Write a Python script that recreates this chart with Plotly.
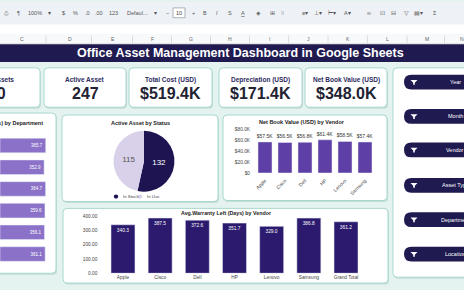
import plotly.graph_objects as go

W, H = 464, 290
FONT = "Liberation Sans, Arial, sans-serif"

# ---------------- data ----------------
kpi_titles = ["Total Assets", "Active Asset", "Total Cost (USD)", "Depreciation (USD)", "Net Book Value (USD)"]
kpi_values = ["500", "247", "$519.4K", "$171.4K", "$348.0K"]

dept_names = ["Admin", "Finance", "HR", "IT", "Marketing", "Operations"]
dept_warranty = [365.7, 352.9, 364.7, 359.6, 356.1, 361.1]

status_labels = ["In Stock", "In Use"]
status_values = [132, 115]

nbv_vendors = ["Apple", "Cisco", "Dell", "HP", "Lenovo", "Samsung"]
nbv_values = [57500, 56500, 56800, 61400, 58500, 57400]
nbv_ticks = [0, 20000, 40000, 60000, 80000]
nbv_ticktext = ["$0", "$20.0K", "$40.0K", "$60.0K", "$80.0K"]

war_vendors = ["Apple", "Cisco", "Dell", "HP", "Lenovo", "Samsung", "Grand Total"]
war_values = [340.3, 387.5, 372.6, 351.7, 329.0, 386.8, 361.2]
war_ticks = [0, 100, 200, 300, 400]
war_ticktext = ["0.00", "100.00", "200.00", "300.00", "400.00"]

filter_labels = ["Year", "Month", "Vendor", "Asset Type", "Department", "Location"]
col_letters = ["C", "D", "E", "F", "G", "H", "I", "J", "K", "L", "M", "N"]

# ---------------- helpers ----------------
def X(px):
    return px / W

def Y(py):
    return 1 - py / H

def rrect(x0, y0, x1, y1, r):
    def p(a, b):
        return f"{X(a):.5f},{Y(b):.5f}"
    return (f"M {p(x0 + r, y0)} L {p(x1 - r, y0)} Q {p(x1, y0)} {p(x1, y0 + r)} "
            f"L {p(x1, y1 - r)} Q {p(x1, y1)} {p(x1 - r, y1)} L {p(x0 + r, y1)} "
            f"Q {p(x0, y1)} {p(x0, y1 - r)} L {p(x0, y0 + r)} Q {p(x0, y0)} {p(x0 + r, y0)} Z")

shapes = []
annotations = []

def rect(x0, y0, x1, y1, color, line=None):
    shapes.append(dict(type="rect", xref="paper", yref="paper", x0=X(x0), x1=X(x1),
                       y0=Y(y1), y1=Y(y0), fillcolor=color, layer="below",
                       line=dict(width=0) if line is None else line))

def card(x0, y0, x1, y1, r=4):
    shapes.append(dict(type="path", xref="paper", yref="paper", path=rrect(x0 + 1, y0 + 1.5, x1 + 1, y1 + 1.5, r),
                       fillcolor="#c4dcd8", line=dict(width=0), layer="below"))
    shapes.append(dict(type="path", xref="paper", yref="paper", path=rrect(x0, y0, x1, y1, r),
                       fillcolor="#ffffff", line=dict(color="#a8d8cf", width=1), layer="below"))

def text(x, y, s, size=6, color="#333333", bold=False, anchor="center"):
    annotations.append(dict(xref="paper", yref="paper", x=X(x), y=Y(y), text=f"<b>{s}</b>" if bold else s,
                            showarrow=False, xanchor=anchor, yanchor="middle",
                            font=dict(family=FONT, size=size, color=color)))

# ---------------- chrome: toolbar / columns / title ----------------
rect(0, 0, W, 23, "#eef2f7")
rect(0, 23, W, 33, "#ffffff")
rect(0, 33, W, 43, "#f8f9fa")
shapes.append(dict(type="line", xref="paper", yref="paper", x0=0, x1=1, y0=Y(42.5), y1=Y(42.5),
                   line=dict(color="#dadce0", width=1), layer="below"))
col_x = [22, 70, 113, 152, 191, 230, 269, 308, 348, 387, 427, 462]
for i, (c, cx) in enumerate(zip(col_letters, col_x)):
    text(cx, 38, c, size=5, color="#5f6368")
    if i < len(col_x) - 1:
        sx = (cx + col_x[i + 1]) / 2
        shapes.append(dict(type="line", xref="paper", yref="paper", x0=X(sx), x1=X(sx), y0=Y(34), y1=Y(42),
                           line=dict(color="#dadce0", width=1), layer="below"))

toolbar = [("⎙", 6), ("¶", 18), ("100%", 35), ("▾", 49), ("$", 63), ("%", 75), (".0", 87), (".00", 99),
           ("123", 113), ("Defaul...", 137), ("▾", 155), ("−", 167), ("+", 193), ("B", 205),
           ("<i>I</i>", 217), ("S", 230), ("<u>A</u>", 243), ("◈", 258), ("⊞", 272), ("⁞⁞", 283),
           ("≡▾", 305), ("⊥▾", 318), ("⊢▾", 332), ("A▾", 347), ("∞", 369), ("⊡", 382), ("⊟", 393),
           ("▽", 406), ("▤▾", 418), ("Σ", 435)]
for s, tx in toolbar:
    text(tx, 11, s, size=5.5, color="#555555")
shapes.append(dict(type="rect", xref="paper", yref="paper", x0=X(173), x1=X(185), y0=Y(16), y1=Y(6),
                   fillcolor="#ffffff", line=dict(color="#9aa0a6", width=0.8), layer="below"))
text(179, 11, "10", size=5.5, color="#444444")

# dashboard background and title bar
rect(0, 43, W, H, "#e4f3f0")
rect(0, 43, W, 61, "#1f1a50")
text(240, 52, "Office Asset Management Dashboard in Google Sheets", size=12.5, color="#ffffff", bold=True)

# ---------------- cards ----------------
kpi_boxes = [(-30, 67, 40), (44, 67, 126), (129, 67, 212), (219, 67, 302), (305, 67, 387)]
for (x0, y0, x1) in kpi_boxes:
    card(x0, y0, x1, 107)
for (x0, y0, x1), t, v in zip(kpi_boxes, kpi_titles, kpi_values):
    if x0 < 0:
        text(16, 79, t, size=6.5, color="#2d2a5e", bold=True, anchor="right")
        text(8, 93, v, size=16, color="#222233", bold=True, anchor="right")
    else:
        cx = (x0 + x1) / 2
        text(cx, 79, t, size=6.5, color="#2d2a5e", bold=True)
        text(cx, 93, v, size=16, color="#222233", bold=True)

card(393, 67, 490, 280)                 # filters
card(-30, 113, 56, 276)                 # dept
card(62, 115, 218, 203)                 # pie
card(223, 115, 387, 202)                # nbv
card(63, 210, 388, 286)                 # warranty

# panel titles
text(45, 123, "Days) by Department", size=5.5, color="#222222", bold=True, anchor="right")
text(140, 123, "Active Asset by Status", size=5.5, color="#222222", bold=True)
text(302, 122, "Net Book Value (USD) by Vendor", size=5.5, color="#222222", bold=True)
text(226, 215, "Avg.Warranty Left (Days) by Vendor", size=5.3, color="#222222", bold=True)

# filter pills
pill_y = [81.5, 116.5, 150.5, 186.5, 221.5, 256.5]
for lab, py in zip(filter_labels, pill_y):
    shapes.append(dict(type="path", xref="paper", yref="paper", path=rrect(404, py - 7.5, 506, py + 7.5, 7.5),
                       fillcolor="#1f1a50", line=dict(width=0), layer="below"))
    fx, fy = 414, py
    p = lambda a, b: f"{X(a):.5f},{Y(b):.5f}"
    shapes.append(dict(type="path", xref="paper", yref="paper",
                       path=f"M {p(fx-3.5, fy-2.2)} L {p(fx+3.5, fy-2.2)} L {p(fx+0.8, fy+0.6)} L {p(fx+0.8, fy+2.6)} "
                            f"L {p(fx-0.8, fy+2.6)} L {p(fx-0.8, fy+0.6)} Z",
                       fillcolor="#ffffff", line=dict(width=0), layer="below"))
    text(455, py, lab, size=5.5, color="#ffffff")

# pie legend (small circle markers drawn as shapes)
for cx, col in [(116, "#1f1452"), (140, "#d9d0ea")]:
    shapes.append(dict(type="circle", xref="paper", yref="paper", x0=X(cx - 2.2), x1=X(cx + 2.2),
                       y0=Y(200.2), y1=Y(195.8), fillcolor=col, line=dict(width=0)))
text(120.5, 198, "In Stock", size=4.3, color="#444444", anchor="left")
text(144.5, 198, "In Use", size=4.3, color="#444444", anchor="left")

# ---------------- traces ----------------
fig = go.Figure()

fig.add_trace(go.Bar(
    y=dept_names, x=dept_warranty, orientation="h", xaxis="x", yaxis="y",
    marker=dict(color="#8b72c8"), width=0.67,
    text=[f"{v:.1f}" for v in dept_warranty], textposition="inside", insidetextanchor="end",
    constraintext="none", textfont=dict(family=FONT, size=4.5, color="#ffffff"),
    showlegend=False, hoverinfo="skip"))

fig.add_trace(go.Pie(
    labels=status_labels, values=status_values, sort=True, direction="clockwise", rotation=0,
    domain=dict(x=[X(113), X(175)], y=[Y(193), Y(131)]),
    marker=dict(colors=["#1f1452", "#d9d0ea"], line=dict(width=0)),
    textinfo="value", textposition="inside", insidetextorientation="horizontal",
    textfont=dict(family=FONT, size=8, color=["#ffffff", "#555555"]),
    showlegend=False, hoverinfo="skip"))

fig.add_trace(go.Bar(
    x=nbv_vendors, y=nbv_values, xaxis="x2", yaxis="y2",
    marker=dict(color="#5e3fa6"), width=0.7,
    text=[f"${v/1000:.1f}K" for v in nbv_values], textposition="outside", cliponaxis=False,
    constraintext="none", textfont=dict(family=FONT, size=5, color="#333333"),
    showlegend=False, hoverinfo="skip"))

fig.add_trace(go.Bar(
    x=war_vendors, y=war_values, xaxis="x3", yaxis="y3",
    marker=dict(color="#2c1a6e"), width=0.645,
    text=[f"{v:.1f}" for v in war_values], textposition="inside", insidetextanchor="end",
    constraintext="none", textfont=dict(family=FONT, size=4.8, color="#ffffff"),
    showlegend=False, hoverinfo="skip"))

tickfont = dict(family=FONT, size=4.8, color="#444444")
hidden = dict(showgrid=False, zeroline=False, showline=False, showticklabels=False, ticks="")

fig.update_layout(
    width=W, height=H, margin=dict(l=0, r=0, t=0, b=0),
    paper_bgcolor="#e4f3f0", plot_bgcolor="rgba(0,0,0,0)",
    shapes=shapes, annotations=annotations, showlegend=False,
    xaxis=dict(domain=[0, X(50)], range=[0, 400], anchor="y", fixedrange=True, **hidden),
    yaxis=dict(domain=[Y(267.5), Y(135)], autorange="reversed", anchor="x", fixedrange=True, **hidden),
    xaxis2=dict(domain=[X(255), X(375)], anchor="y2", showgrid=False, zeroline=False, showline=False,
                tickangle=-45, tickfont=tickfont, ticks="outside", ticklen=2, tickcolor="rgba(0,0,0,0)"),
    yaxis2=dict(domain=[Y(174), Y(130)], anchor="x2", range=[0, 80000], tickvals=nbv_ticks,
                ticktext=nbv_ticktext, showgrid=False, zeroline=False, showline=False, tickfont=tickfont,
                ticks="outside", ticklen=3, tickcolor="rgba(0,0,0,0)"),
    xaxis3=dict(domain=[X(104.4), X(364.6)], anchor="y3", showgrid=False, zeroline=False, showline=False,
                tickfont=tickfont, ticks="", tickangle=0),
    yaxis3=dict(domain=[Y(276), Y(218)], anchor="x3", range=[0, 400], tickvals=war_ticks,
                ticktext=war_ticktext, showgrid=False, zeroline=False, showline=False, tickfont=tickfont,
                ticks="outside", ticklen=5, tickcolor="rgba(0,0,0,0)"),
)

fig.write_html("out.html")
